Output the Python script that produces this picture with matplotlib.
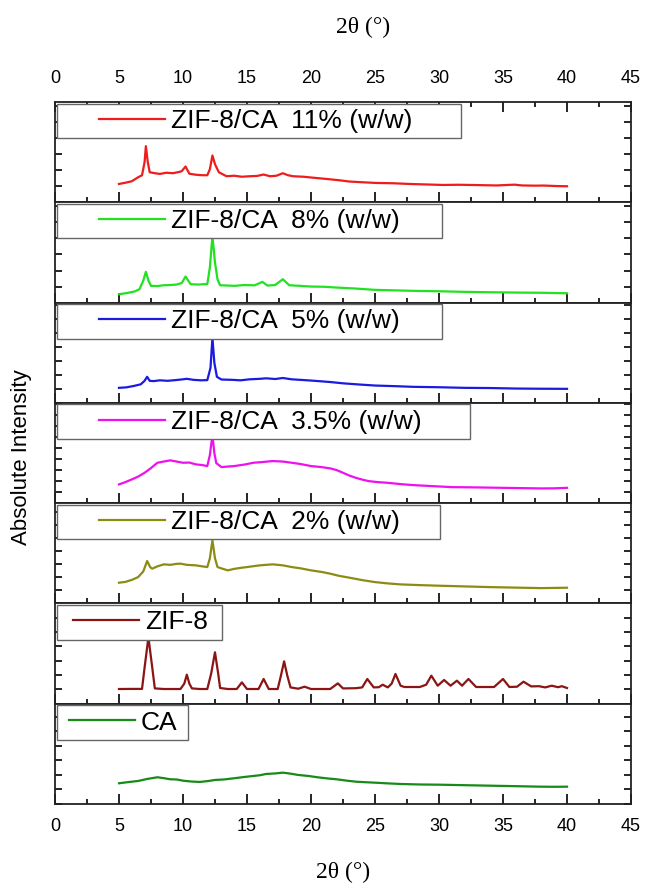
import matplotlib.pyplot as plt
from matplotlib.legend_handler import HandlerLine2D
from matplotlib.ticker import MultipleLocator

# XRD patterns, 2theta (deg) vs intensity (a.u.)
x_11 = [5.0, 5.5, 6.0, 6.5, 6.8, 7.0, 7.1, 7.25, 7.4, 7.8, 8.2, 8.7, 9.2, 9.6, 9.9, 10.2, 10.5, 11.0,
        11.5, 11.9, 12.1, 12.3, 12.5, 12.8, 13.4, 14.0, 14.6, 15.2, 15.8, 16.3, 16.8, 17.3, 17.8, 18.2,
        18.6, 19.4, 20.2, 21.2, 22.2, 23.0, 24.0, 25.1, 26.4, 27.7, 29.0, 30.3, 31.5, 32.9, 34.5, 35.9,
        36.5, 37.5, 38.2, 39.2, 40.0]
i_11 = [18.3, 19.5, 21, 25, 27, 40, 56, 40, 30, 29, 28.3, 29.5, 29, 30, 31, 35.7, 28.5, 27.5,
        27, 27, 33, 46.7, 38, 30, 26, 26.5, 25.5, 26, 26.3, 27.7, 26, 26.5, 29, 27,
        26, 25.5, 24.5, 23.3, 22, 20.7, 20, 19.3, 19, 18.3, 17.8, 17.3, 17.5, 17.2, 16.8, 17.6,
        16.8, 16.6, 16.7, 16.2, 16]

x_8 = [5.0, 5.6, 6.2, 6.6, 6.9, 7.1, 7.3, 7.5, 8.0, 8.5, 9.0, 9.5, 9.9, 10.2, 10.6, 11.2, 11.9, 12.1,
       12.3, 12.5, 12.7, 12.9, 13.5, 14.0, 14.8, 15.6, 16.2, 16.6, 17.2, 17.8, 18.3, 19.0, 20.0, 21.0,
       22.0, 23.5, 25.0, 26.5, 28.0, 30.0, 32.0, 34.0, 36.0, 38.0, 40.0]
i_8 = [8.3, 9.5, 11, 13.3, 22, 30.7, 22, 16.7, 16.5, 17.3, 17.5, 18, 19.5, 26, 18.3, 18, 18.5, 35,
       66.7, 40, 23, 17.3, 17, 16.7, 17.5, 17.2, 20.7, 17, 17.5, 23.3, 17.3, 16.8, 16, 15.8,
       15, 14, 12.7, 12.2, 11.7, 11.3, 10.7, 10.3, 10, 9.8, 9.3]

x_5 = [5.0, 5.6, 6.2, 6.7, 7.0, 7.2, 7.4, 7.7, 8.2, 8.8, 9.4, 10.0, 10.3, 10.8, 11.4, 11.9, 12.15,
       12.3, 12.45, 12.65, 13.0, 13.8, 14.5, 15.2, 16.0, 16.5, 17.2, 17.8, 18.5, 19.5, 20.5, 21.5,
       22.5, 23.8, 25.0, 26.5, 28.0, 30.0, 32.0, 34.0, 36.0, 38.0, 40.0]
i_5 = [15, 15.5, 17, 18.5, 22, 26, 22, 21.7, 22.5, 22, 22.7, 23.5, 24, 23, 22.5, 22.7, 35,
       65, 40, 26, 23.3, 23, 22.5, 23.5, 24, 24.5, 23.8, 24.8, 23.5, 22.7, 21.8, 20.8,
       19.5, 18.3, 17.3, 16.7, 16, 15.6, 15, 14.8, 14.3, 14.1, 14]

x_35 = [5.0, 5.5, 6.0, 6.5, 7.0, 7.5, 8.0, 8.5, 9.0, 9.5, 10.0, 10.5, 11.0, 11.5, 11.9, 12.1, 12.3,
        12.45, 12.6, 13.0, 13.5, 14.0, 14.8, 15.5, 16.2, 17.0, 17.8, 18.5, 19.2, 20.0, 20.8, 21.5,
        22.0, 22.5, 23.0, 23.5, 24.0, 24.5, 25.2, 26.0, 27.0, 28.0, 29.5, 31.0, 33.0, 35.0, 36.5,
        38.0, 39.0, 40.0]
i_35 = [18.7, 21, 23.7, 26.5, 30.3, 35, 40.3, 41.5, 42.7, 41.5, 40.3, 40.5, 38.7, 38, 37, 48, 68,
        50, 40, 36, 36.5, 37, 38.5, 40.3, 41, 42, 41.5, 40.3, 39, 37, 36, 34.7,
        33, 30.3, 27.5, 25.3, 23.5, 22, 21, 20.3, 19, 18, 17, 16, 15.7, 15.3, 15,
        14.7, 14.8, 15.3]

x_2 = [5.0, 5.5, 6.0, 6.5, 6.9, 7.2, 7.45, 7.6, 8.0, 8.5, 9.0, 9.5, 9.8, 10.3, 11.0, 11.5, 11.9,
       12.1, 12.3, 12.5, 12.7, 13.0, 13.5, 14.0, 14.5, 15.0, 16.0, 17.0, 17.8, 18.5, 19.2, 20.0,
       20.8, 21.5, 22.2, 23.0, 24.0, 25.0, 26.0, 27.0, 28.5, 30.0, 32.0, 34.0, 36.0, 38.0, 40.0]
i_2 = [20.7, 21.5, 23.5, 26.3, 32, 42.3, 36, 34.7, 37, 39, 38.5, 39.5, 39.7, 38.5, 38, 37, 36.3,
       45, 63, 45, 36.3, 35, 33, 34.5, 35.5, 36.3, 38, 39, 38, 36.3, 35, 33,
       31.5, 29.7, 27.5, 25.7, 23.3, 21.3, 20, 19, 18.3, 17.7, 17, 16.3, 15.8, 15.3, 15.7]

x_zif = [5.0, 6.0, 6.8, 7.0, 7.3, 7.6, 7.8, 8.5, 9.8, 10.1, 10.3, 10.5, 10.7, 11.3, 11.9, 12.2, 12.5,
         12.75, 12.9, 13.5, 14.2, 14.6, 15.0, 15.9, 16.3, 16.7, 17.4, 17.65, 17.9, 18.15, 18.4, 19.0,
         19.5, 20.0, 21.5, 22.1, 22.5, 23.5, 24.0, 24.4, 24.9, 25.3, 25.6, 26.0, 26.3, 26.6, 27.0,
         27.3, 28.5, 29.0, 29.4, 29.9, 30.4, 30.9, 31.4, 31.8, 32.3, 32.9, 33.5, 34.3, 35.0, 35.5,
         36.1, 36.6, 37.2, 37.8, 38.3, 38.8, 39.3, 39.6, 40.0]
i_zif = [14.7, 14.8, 14.8, 36, 66.3, 36, 15.3, 14.7, 14.7, 20, 29, 20, 15.3, 14.7, 14.7, 30, 51.3,
         30, 15.7, 14.7, 14.7, 21.3, 14.7, 14.7, 24.7, 14.7, 14.7, 28, 42.3, 28, 16.3, 15,
         17, 14.7, 14.7, 20.3, 15.3, 15.5, 16.3, 24.7, 16.3, 16.5, 19, 16.3, 20, 29.7, 18,
         16.7, 16.7, 19, 28, 18, 23.7, 18, 23, 18, 24.7, 16.7, 16.7, 16.7, 24.7, 16.7,
         17, 22, 17.3, 17.5, 16.3, 18, 16.5, 17.5, 15.7]

x_ca = [5.0, 5.8, 6.5, 7.2, 8.0, 8.5, 9.0, 9.5, 10.0, 10.6, 11.3, 12.0, 12.5, 13.2, 14.0, 14.8, 15.5,
        16.0, 16.5, 17.2, 17.8, 18.4, 19.0, 19.8, 20.5, 21.3, 22.0, 22.8, 23.5, 24.2, 25.0, 26.0,
        27.0, 28.5, 30.0, 32.0, 34.0, 36.0, 38.0, 39.0, 40.0]
i_ca = [20.7, 22, 23, 25, 26.7, 25.8, 24.7, 24.5, 23.3, 22.5, 22, 23, 24, 24.5, 25.7, 27, 28,
        28.7, 30, 30.5, 31.3, 30.3, 29, 28, 26.7, 25.5, 24.7, 23.3, 22.3, 21.8, 21.3, 20.6,
        20, 19.5, 19.3, 18.8, 18.3, 17.8, 17.3, 17.2, 17.3]

labels = ['ZIF-8/CA  11% (w/w)', 'ZIF-8/CA  8% (w/w)', 'ZIF-8/CA  5% (w/w)',
          'ZIF-8/CA  3.5% (w/w)', 'ZIF-8/CA  2% (w/w)', 'ZIF-8', 'CA']
xs = [x_11, x_8, x_5, x_35, x_2, x_zif, x_ca]
ys = [i_11, i_8, i_5, i_35, i_2, i_zif, i_ca]

colors = ['#ee1c1c', '#22e022', '#1a1ae0', '#ee10ee', '#8c8c14', '#8b1414', '#178a17']
leg_w = [0.707, 0.674, 0.674, 0.724, 0.672, 0.292, 0.234]
leg_xpad = [1.4, 1.4, 1.4, 1.4, 1.4, 0.42, 0.27]
tick_step = [16, 16, 14, 11, 13, 14.3, 14.5]

plt.rcParams['font.family'] = 'Liberation Sans'

fig, axes = plt.subplots(7, 1, sharex=True, figsize=(6.46, 8.91), dpi=100)
fig.subplots_adjust(left=0.0851, right=0.9768, top=0.8855, bottom=0.0976, hspace=0)

for k, ax in enumerate(axes):
    line, = ax.plot(xs[k], ys[k], color=colors[k], lw=1.6)
    ax.set_xlim(0, 45)
    ax.set_ylim(0, 100)
    ax.xaxis.set_major_locator(MultipleLocator(5))
    ax.xaxis.set_minor_locator(MultipleLocator(2.5))
    ax.yaxis.set_major_locator(MultipleLocator(tick_step[k]))
    ax.tick_params(axis='x', which='major', direction='in', length=7, width=1.2,
                   top=(k == 0), labelsize=13, pad=10)
    ax.tick_params(axis='x', which='minor', direction='in', length=3.5, width=1.2, top=(k == 0))
    ax.tick_params(axis='y', direction='in', length=5, width=1.2, left=True, right=True,
                   labelleft=False)
    for s in ax.spines.values():
        s.set_linewidth(1.3)
        s.set_color('#222222')
    leg = ax.legend([line], [labels[k]], loc='upper left', bbox_to_anchor=(0, 1, leg_w[k], 0),
                    mode='expand', borderaxespad=0.06, borderpad=0.2,
                    handlelength=2.5 + leg_xpad[k], handletextpad=0.22,
                    fancybox=False, framealpha=1, edgecolor='#666666', fontsize=19,
                    handler_map={line: HandlerLine2D(xpad=leg_xpad[k])})
    leg.get_frame().set_linewidth(1.0)

axes[0].tick_params(axis='x', which='major', labeltop=True, pad=11)

fig.text(0.562, 0.969, '2θ (°)', ha='center', va='center', fontsize=17, family='Liberation Serif')
fig.text(0.531, 0.021, '2θ (°)', ha='center', va='center', fontsize=17, family='Liberation Serif')
fig.text(0.034, 0.487, 'Absolute Intensity', ha='center', va='center', rotation=90, fontsize=16)

plt.savefig('out.png')
